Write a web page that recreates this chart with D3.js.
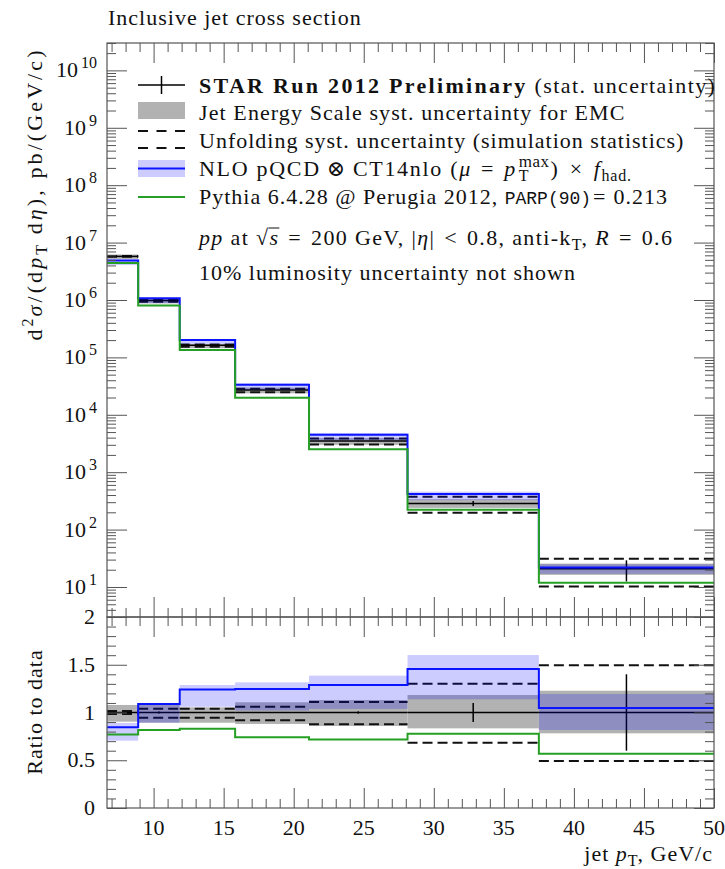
<!DOCTYPE html>
<html>
<head>
<meta charset="utf-8">
<script src="https://cdn.jsdelivr.net/npm/d3@7"></script>
<style>
  body { margin: 0; background: #fff; }
  text { font-family: "Liberation Serif", "DejaVu Serif", serif; fill: #111; }
</style>
</head>
<body>
<svg id="chart" width="725" height="869"></svg>
<script>
// ---- jet pT bins (GeV/c) ----
const binEdges = [6.674, 8.899, 11.865, 15.820, 21.094, 28.125, 37.5, 50];

// ---- measured cross section, pb/(GeV/c) ----
const dataXsec = [5.75e6, 9.8e5, 1.62e5, 2.69e4, 3.48e3, 286, 20.8];
// relative statistical uncertainty
const statRel = [0.004, 0.01, 0.004, 0.004, 0.012, 0.10, 0.40];

// ---- theory / MC, pb/(GeV/c) ----
const nloXsec = [4.86e6, 1.067e6, 2.01e5, 3.35e4, 4.48e3, 416, 21.8];
const pythiaXsec = [4.42e6, 8.01e5, 1.345e5, 1.99e4, 2.50e3, 222, 11.8];

// ---- bands, as fraction of the measured value ----
const jesLow  = [0.904, 0.893, 0.893, 0.880, 0.859, 0.834, 0.782];
const jesHigh = [1.079, 1.079, 1.054, 1.107, 1.131, 1.183, 1.228];
const unfLow  = [0.985, 0.946, 0.946, 0.918, 0.876, 0.684, 0.492];
const unfHigh = [1.015, 1.040, 1.040, 1.061, 1.110, 1.302, 1.494];
const nloLow  = [0.705, 0.893, 1.060, 1.020, 1.037, 1.138, 0.817];
const nloHigh = [0.890, 1.100, 1.288, 1.316, 1.386, 1.602, 1.194];

// ---- axis ticks ----
const xMajor = [10, 15, 20, 25, 30, 35, 40, 45, 50];
const xMinor = d3.range(7, 50);
const logExponents = [1, 2, 3, 4, 5, 6, 7, 8, 9, 10];
const ratioMajor = [0, 0.5, 1, 1.5, 2];
const ratioMinor = d3.range(0, 21).map(d => d / 10);

// ---- layout ----
const L = 107, R = 714, T = 43, M = 617, B = 808;
const frameColor = "#555";
const blue = "#0a14ff", green = "#25a025";
const greyBand = "#b2b2b2", blueBand = "rgba(0,0,255,0.2)";

const svg = d3.select("#chart");
const x = d3.scaleLinear().domain([binEdges[0], binEdges[binEdges.length - 1]]).range([L, R]);
const yTop = d3.scaleLog().domain([3, 3e10]).range([M, T]);
const yRat = d3.scaleLinear().domain([0, 2]).range([B, M]);

const bins = dataXsec.map((v, i) => ({
  i, x0: binEdges[i], x1: binEdges[i + 1], xc: (binEdges[i] + binEdges[i + 1]) / 2, v
}));

const defs = svg.append("defs");
defs.append("clipPath").attr("id", "clipTop").append("rect")
  .attr("x", L).attr("y", T).attr("width", R - L).attr("height", M - T);
defs.append("clipPath").attr("id", "clipRat").append("rect")
  .attr("x", L).attr("y", M).attr("width", R - L).attr("height", B - M);

// rich text helper: segments with italic / bold / mono / super- and subscripts
function rich(textSel, segs) {
  let off = 0, pendingDx = 0;
  const nodes = [];
  segs.forEach(s => {
    const o = typeof s === "string" ? { t: s } : s;
    const target = o.sup ? -o.sup : (o.sub ? o.sub : 0);
    const ts = textSel.append("tspan").text(o.t).attr("dy", target - off);
    off = target;
    if (o.it) ts.attr("font-style", "italic");
    if (o.bold) ts.attr("font-weight", "bold");
    if (o.mono) ts.attr("font-family", "Liberation Mono, DejaVu Sans Mono, monospace").attr("letter-spacing", 0);
    if (o.size) ts.attr("font-size", o.size);
    if (o.sup || o.sub) ts.attr("letter-spacing", 0);
    if (o.ls !== undefined) ts.attr("letter-spacing", o.ls);
    let dx = (o.dx || 0) + pendingDx;
    pendingDx = 0;
    if (o.under) { // stack under the previous tspan
      const prevLen = nodes[nodes.length - 1].getComputedTextLength();
      dx -= prevLen;
      ts.attr("dx", dx);
      pendingDx = Math.max(0, prevLen - ts.node().getComputedTextLength());
    } else if (dx) ts.attr("dx", dx);
    nodes.push(ts.node());
  });
  return nodes;
}

// ---- one panel of the chart ----
function drawPanel(g, yScale, val) {
  // jet energy scale band
  g.selectAll("rect.jes").data(bins).join("rect").attr("class", "jes")
    .attr("x", d => x(d.x0)).attr("width", d => x(d.x1) - x(d.x0))
    .attr("y", d => yScale(val(d, jesHigh[d.i])))
    .attr("height", d => yScale(val(d, jesLow[d.i])) - yScale(val(d, jesHigh[d.i])))
    .attr("fill", greyBand);
  // unfolding uncertainty (dashed)
  [unfLow, unfHigh].forEach((arr, k) => {
    g.selectAll("line.unf" + k).data(bins).join("line").attr("class", "unf" + k)
      .attr("x1", d => x(d.x0)).attr("x2", d => x(d.x1))
      .attr("y1", d => yScale(val(d, arr[d.i]))).attr("y2", d => yScale(val(d, arr[d.i])))
      .attr("stroke", "#111").attr("stroke-width", 2).attr("stroke-dasharray", "10,5");
  });
  // measured values
  g.selectAll("line.dat").data(bins).join("line").attr("class", "dat")
    .attr("x1", d => x(d.x0)).attr("x2", d => x(d.x1))
    .attr("y1", d => yScale(val(d, 1))).attr("y2", d => yScale(val(d, 1)))
    .attr("stroke", "#000").attr("stroke-width", 1.5);
  g.selectAll("line.stat").data(bins).join("line").attr("class", "stat")
    .attr("x1", d => x(d.xc)).attr("x2", d => x(d.xc))
    .attr("y1", d => yScale(val(d, 1 - statRel[d.i]))).attr("y2", d => yScale(val(d, 1 + statRel[d.i])))
    .attr("stroke", "#000").attr("stroke-width", 1.5);
  // NLO band
  g.selectAll("rect.nlo").data(bins).join("rect").attr("class", "nlo")
    .attr("x", d => x(d.x0)).attr("width", d => x(d.x1) - x(d.x0))
    .attr("y", d => yScale(val(d, nloHigh[d.i])))
    .attr("height", d => yScale(val(d, nloLow[d.i])) - yScale(val(d, nloHigh[d.i])))
    .attr("fill", blueBand);
}

function stepLine(g, yScale, values, color) {
  const pts = values.map((v, i) => [binEdges[i], v]);
  pts.push([binEdges[binEdges.length - 1], values[values.length - 1]]);
  const line = d3.line().x(p => x(p[0])).y(p => yScale(p[1])).curve(d3.curveStepAfter);
  g.append("path").attr("d", line(pts)).attr("fill", "none")
    .attr("stroke", color).attr("stroke-width", 2);
}

// top panel: absolute cross sections
const gTop = svg.append("g").attr("clip-path", "url(#clipTop)");
drawPanel(gTop, yTop, (d, f) => d.v * f);
stepLine(gTop, yTop, nloXsec, blue);
stepLine(gTop, yTop, pythiaXsec, green);

// ratio panel: everything divided by the measurement
const gRat = svg.append("g").attr("clip-path", "url(#clipRat)");
drawPanel(gRat, yRat, (d, f) => f);
stepLine(gRat, yRat, nloXsec.map((v, i) => v / dataXsec[i]), blue);
stepLine(gRat, yRat, pythiaXsec.map((v, i) => v / dataXsec[i]), green);

// ---- axes ----
function styleAxis(g) {
  g.select(".domain").remove();
  g.selectAll(".tick line").attr("stroke", frameColor).attr("stroke-width", 1);
}
const logMajor = logExponents.map(e => Math.pow(10, e));
const logMinor = [];
for (let e = 0; e <= 10; e++) for (let m = 2; m <= 9; m++) {
  const v = m * Math.pow(10, e);
  if (v >= 3 && v <= 3e10) logMinor.push(v);
}

// x ticks on every horizontal edge
[[T, 1], [M, -1], [M, 1], [B, -1]].forEach(([yy, dir]) => {
  const mk = (vals, len) => {
    const ax = (dir > 0 ? d3.axisTop(x) : d3.axisBottom(x)).tickValues(vals).tickSize(-len).tickFormat("");
    svg.append("g").attr("transform", `translate(0,${yy})`).call(ax).call(styleAxis);
  };
  mk(xMinor.filter(v => !xMajor.includes(v)), 9);
  mk(xMajor, 20);
});
// x tick labels
svg.append("g").selectAll("text").data(xMajor).join("text")
  .attr("x", d => x(d)).attr("y", 835).attr("text-anchor", "middle")
  .attr("font-size", 22).text(d => d);

// top panel y ticks
[[L, d3.axisLeft], [R, d3.axisRight]].forEach(([xx, fn]) => {
  svg.append("g").attr("transform", `translate(${xx},0)`)
    .call(fn(yTop).tickValues(logMinor).tickSize(-9).tickFormat("")).call(styleAxis);
  svg.append("g").attr("transform", `translate(${xx},0)`)
    .call(fn(yTop).tickValues(logMajor).tickSize(-20).tickFormat("")).call(styleAxis);
});
logMajor.forEach((v, k) => {
  const t = svg.append("text").attr("x", 97).attr("y", yTop(v) + 7)
    .attr("text-anchor", "end").attr("font-size", 22);
  rich(t, ["10", { t: String(logExponents[k]), sup: 9, size: 16, dx: 3 }]);
});

// ratio panel y ticks
[[L, d3.axisLeft], [R, d3.axisRight]].forEach(([xx, fn]) => {
  svg.append("g").attr("transform", `translate(${xx},0)`)
    .call(fn(yRat).tickValues(ratioMinor.filter(v => !ratioMajor.includes(v))).tickSize(-9).tickFormat("")).call(styleAxis);
  svg.append("g").attr("transform", `translate(${xx},0)`)
    .call(fn(yRat).tickValues(ratioMajor).tickSize(-20).tickFormat("")).call(styleAxis);
});
svg.append("g").selectAll("text").data(ratioMajor).join("text")
  .attr("x", 95).attr("y", d => yRat(d) + 7).attr("text-anchor", "end")
  .attr("font-size", 22).text(d => d3.format("")(d));

// frames
[[T, M], [M, B]].forEach(([y0, y1]) => {
  svg.append("rect").attr("x", L).attr("y", y0).attr("width", R - L).attr("height", y1 - y0)
    .attr("fill", "none").attr("stroke", frameColor).attr("stroke-width", 1.2);
});

// ---- titles ----
const txt = (xx, yy, anchor, ls) => svg.append("text").attr("x", xx).attr("y", yy)
  .attr("text-anchor", anchor || "start").attr("font-size", 22).attr("letter-spacing", ls === undefined ? 1 : ls);

txt(108, 25).text("Inclusive jet cross section");

rich(txt(713, 861, "end"), ["jet ", { t: "p", it: true }, { t: "T", sub: 5, size: 16 }, ", GeV/c"]);

const yl = svg.append("text").attr("transform", "translate(42,194) rotate(-90)")
  .attr("text-anchor", "middle").attr("font-size", 22).attr("letter-spacing", 3.1);
rich(yl, ["d", { t: "2", sup: 9, size: 16, ls: 2 }, { t: "σ", it: true }, "/(d", { t: "p", it: true },
  { t: "T", sub: 5, size: 16, ls: 2 }, " d", { t: "η", it: true }, "), pb/(GeV/c)"]);

svg.append("text").attr("transform", "translate(42,712) rotate(-90)")
  .attr("text-anchor", "middle").attr("font-size", 22).attr("letter-spacing", 1)
  .text("Ratio to data");

// ---- legend ----
const lx0 = 138, lx1 = 185, tx = 199;
// measurement
svg.append("line").attr("x1", lx0).attr("x2", lx1).attr("y1", 85).attr("y2", 85)
  .attr("stroke", "#000").attr("stroke-width", 1.5);
svg.append("line").attr("x1", (lx0 + lx1) / 2).attr("x2", (lx0 + lx1) / 2).attr("y1", 76).attr("y2", 94)
  .attr("stroke", "#000").attr("stroke-width", 1.5);
rich(txt(tx, 92.5), [{ t: "STAR Run 2012 Preliminary", bold: true, ls: 2.3 },
  { t: " (stat. uncertainty)", ls: 1.4 }]);
// JES
svg.append("rect").attr("x", lx0).attr("y", 102).attr("width", lx1 - lx0).attr("height", 17).attr("fill", greyBand);
txt(tx, 119.5, "start", 1.1).text("Jet Energy Scale syst. uncertainty for EMC");
// unfolding
[131, 148].forEach(yy => svg.append("line").attr("x1", lx0).attr("x2", lx1).attr("y1", yy).attr("y2", yy)
  .attr("stroke", "#111").attr("stroke-width", 2).attr("stroke-dasharray", "10,8.5"));
txt(tx, 147.5).text("Unfolding syst. uncertainty (simulation statistics)");
// NLO
svg.append("rect").attr("x", lx0).attr("y", 160).attr("width", lx1 - lx0).attr("height", 17).attr("fill", blueBand);
svg.append("line").attr("x1", lx0).attr("x2", lx1).attr("y1", 168.5).attr("y2", 168.5)
  .attr("stroke", blue).attr("stroke-width", 2);
rich(txt(tx, 176, "start", 1.7), ["NLO pQCD", { t: "⊗", dx: 6 }, { t: "CT14nlo (", dx: 6 }, { t: "μ", it: true },
  { t: "=", dx: 9 }, { t: "p", it: true, dx: 9 },
  { t: "max", sup: 9, size: 17, dx: 2, ls: 0.5 }, { t: "T", sub: 5, size: 16, under: true }, { t: ")", dx: 1 },
  { t: "×", dx: 10 }, { t: "f", it: true, dx: 10 }, { t: "had.", sub: 5, size: 16, ls: 0.8 }]);
// Pythia
svg.append("line").attr("x1", lx0).attr("x2", lx1).attr("y1", 197).attr("y2", 197)
  .attr("stroke", green).attr("stroke-width", 2);
rich(txt(tx, 204), ["Pythia 6.4.28 @ Perugia 2012, ", { t: "PARP(90)", mono: true, size: 18 },
  { t: "=", dx: 2 }, { t: "0.213", dx: 7 }]);
// conditions
const c6 = txt(tx, 244.5, "start", 1.35);
const n6 = rich(c6, [{ t: "pp", it: true }, " at √", { t: "s", it: true }, { t: "=", dx: 9 }, { t: "200 GeV, |", dx: 9 },
  { t: "η", it: true }, "|", { t: "<", dx: 9 }, { t: "0.8, anti-k", dx: 9 }, { t: "T", sub: 5, size: 16 }, ", ",
  { t: "R", it: true }, { t: "=", dx: 9 }, { t: "0.6", dx: 9 }]);
{
  const sNode = n6[2];
  const p = sNode.getStartPositionOfChar(0);
  const w = sNode.getComputedTextLength();
  svg.append("line").attr("x1", p.x - 1).attr("x2", p.x + w).attr("y1", 244.5 - 16.5).attr("y2", 244.5 - 16.5)
    .attr("stroke", "#111").attr("stroke-width", 1);
}
txt(tx, 280).text("10% luminosity uncertainty not shown");
</script>
</body>
</html>
